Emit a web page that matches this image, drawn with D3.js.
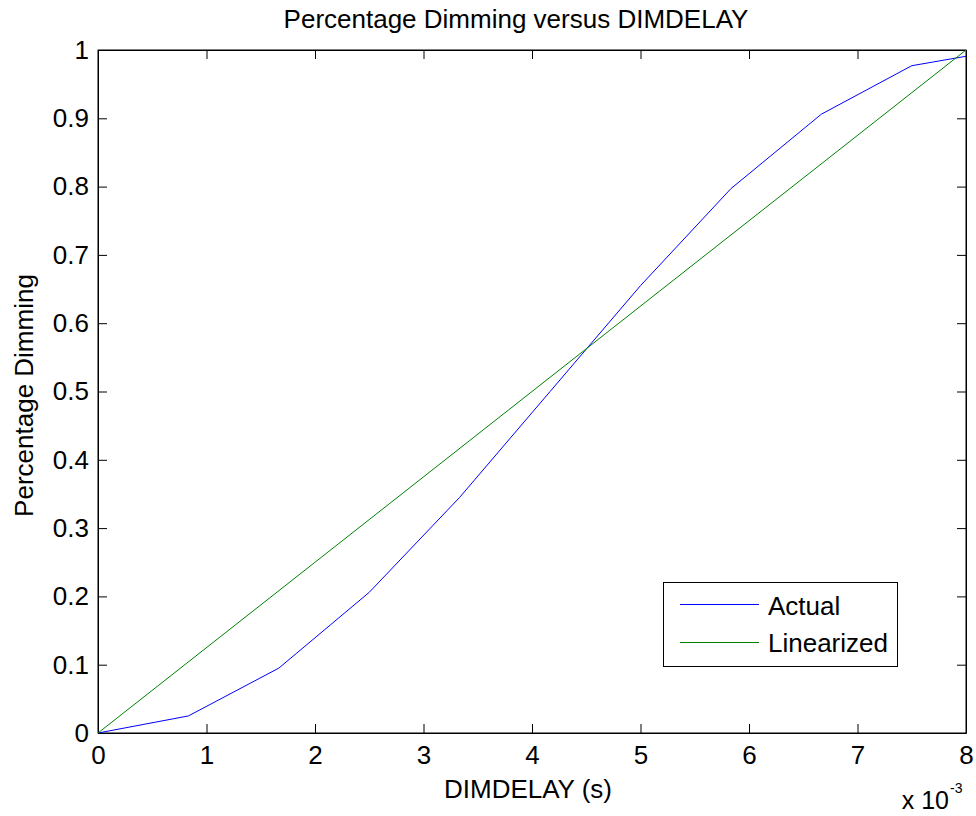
<!DOCTYPE html>
<html><head><meta charset="utf-8">
<script src="https://cdn.jsdelivr.net/npm/d3@7"></script>
<style>body{margin:0;background:#fff;} text{font-family:"Liberation Sans",Arial,Helvetica,sans-serif;fill:#000;}</style>
</head><body>
<svg id="c" width="976" height="816"></svg>
<script>
const xActual = [0, 0.8333, 1.6667, 2.5, 3.3333, 4.1667, 5, 5.8333, 6.6667, 7.5, 8.3333];
const yActual = [0, 0.025, 0.095, 0.206, 0.345, 0.5, 0.655, 0.797, 0.906, 0.977, 1.0];
const xLinear = [0, 8];
const yLinear = [0, 1];
const xTicks = [0,1,2,3,4,5,6,7,8];
const yTicks = [0,0.1,0.2,0.3,0.4,0.5,0.6,0.7,0.8,0.9,1];
const seriesNames = ["Actual","Linearized"];
const seriesColors = ["#0000ff","#008000"];

const L=98,R=966,T=50,B=733;
const svg=d3.select("#c");
const x=d3.scaleLinear().domain([0,8]).range([L,R]);
const y=d3.scaleLinear().domain([0,1]).range([B,T]);
const fs=26;

svg.append("defs").append("clipPath").attr("id","clip").append("rect")
  .attr("x",L).attr("y",T).attr("width",R-L).attr("height",B-T);

// axes
const tl=9;
const gx=svg.append("g").attr("transform",`translate(0,${B})`)
  .call(d3.axisBottom(x).tickValues(xTicks).tickFormat(d3.format("d")).tickSizeInner(-tl).tickSizeOuter(0).tickPadding(13));
const gxt=svg.append("g").attr("transform",`translate(0,${T})`)
  .call(d3.axisTop(x).tickValues(xTicks).tickFormat("").tickSizeInner(-tl).tickSizeOuter(0));
const gy=svg.append("g").attr("transform",`translate(${L},0)`)
  .call(d3.axisLeft(y).tickValues(yTicks).tickFormat(d=>d===0||d===1?String(d):d3.format(".1f")(d)).tickSizeInner(-tl).tickSizeOuter(0).tickPadding(9));
const gyr=svg.append("g").attr("transform",`translate(${R},0)`)
  .call(d3.axisRight(y).tickValues(yTicks).tickFormat("").tickSizeInner(-tl).tickSizeOuter(0));
[gx,gxt,gy,gyr].forEach(g=>{
  g.selectAll(".domain").attr("stroke","#000").attr("stroke-width",1);
  g.selectAll(".tick line").attr("stroke","#000").attr("stroke-width",1);
  g.selectAll("text").attr("font-size",fs).attr("font-family","Liberation Sans, Arial, sans-serif").attr("fill","#000");
});
svg.append("rect").attr("x",L).attr("y",T).attr("width",R-L).attr("height",B-T)
  .attr("fill","none").attr("stroke","#000").attr("stroke-width",1);

// lines
const line=d3.line().x(d=>x(d[0])).y(d=>y(d[1]));
const plot=svg.append("g").attr("clip-path","url(#clip)");
plot.append("path").datum(xActual.map((v,i)=>[v,yActual[i]])).attr("d",line)
  .attr("fill","none").attr("stroke",seriesColors[0]).attr("stroke-width",1);
plot.append("path").datum(xLinear.map((v,i)=>[v,yLinear[i]])).attr("d",line)
  .attr("fill","none").attr("stroke",seriesColors[1]).attr("stroke-width",1);

// title and labels
svg.append("text").attr("x",516).attr("y",28).attr("text-anchor","middle").attr("font-size",fs).text("Percentage Dimming versus DIMDELAY");
svg.append("text").attr("x",528).attr("y",798).attr("text-anchor","middle").attr("font-size",fs).text("DIMDELAY (s)");
svg.append("text").attr("transform",`translate(33,${(T+B)/2+4}) rotate(-90)`).attr("text-anchor","middle").attr("font-size",fs).text("Percentage Dimming");
svg.append("text").attr("x",949).attr("y",809).attr("text-anchor","end").attr("font-size",25).text("x 10");
svg.append("text").attr("x",950).attr("y",793).attr("font-size",14).text("-3");

// legend
const lg=svg.append("g");
lg.append("rect").attr("x",663.5).attr("y",582.5).attr("width",234).attr("height",84).attr("fill","#fff").attr("stroke","#000");
seriesNames.forEach((n,i)=>{
  const yy=604+i*38;
  lg.append("line").attr("x1",680).attr("x2",759).attr("y1",yy+0.5).attr("y2",yy+0.5).attr("stroke",seriesColors[i]).attr("stroke-width",1);
  lg.append("text").attr("x",768).attr("y",615+i*37).attr("font-size",fs).text(n);
});
</script>
</body></html>
